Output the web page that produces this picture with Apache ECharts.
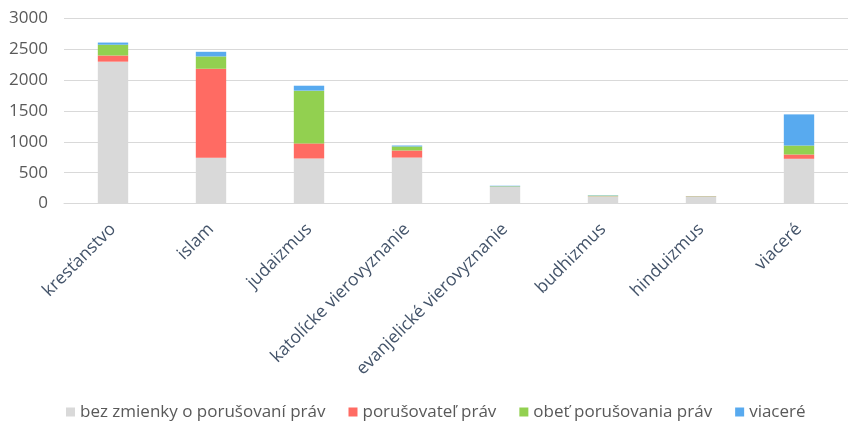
<!DOCTYPE html>
<html><head><meta charset="utf-8">
<script src="https://cdn.jsdelivr.net/npm/echarts@6/dist/echarts.min.js"></script>
<style>html,body{margin:0;padding:0;background:#fff}#c{width:848px;height:421px}</style>
</head><body><div id="c"></div>
<script>
const categories = ['kresťanstvo','islam','judaizmus','katolícke vierovyznanie','evanjelické vierovyznanie','budhizmus','hinduizmus','viaceré'];
const seriesNames = ['bez zmienky o porušovaní práv','porušovateľ práv','obeť porušovania práv','viaceré'];
const bezZmienky = [2300, 740, 730, 745, 270, 115, 105, 725];
const porusovatel = [100, 1445, 245, 115, 2, 3, 6, 70];
const obet = [175, 200, 855, 65, 8, 10, 5, 145];
const viacere = [35, 75, 80, 15, 8, 5, 2, 505];
const yTicks = [0, 500, 1000, 1500, 2000, 2500, 3000];
const colors = ['#D9D9D9','#FF6B63','#92D050','#58AAEF'];
const values = [bezZmienky, porusovatel, obet, viacere];

const chart = echarts.init(document.getElementById('c'));
chart.setOption({
  animation: false,
  grid: {left: 64, right: -4, top: 18.5, bottom: 217.5, containLabel: false},
  legend: {
    top: 401, left: 66, padding: 0,
    itemWidth: 9, itemHeight: 9, itemGap: 23, icon: 'rect',
    textStyle: {color: '#595959', fontSize: 17, fontFamily: 'Open Sans', lineHeight: 22},
    data: seriesNames
  },
  xAxis: {
    type: 'category', data: categories,
    axisLine: {lineStyle: {color: '#D9D9D9', width: 1}},
    axisTick: {show: false},
    axisLabel: {rotate: 45, color: '#44546A', fontSize: 17.5, fontFamily: 'Open Sans', margin: 23, interval: 0}
  },
  yAxis: {
    type: 'value', min: yTicks[0], max: yTicks[yTicks.length-1], interval: 500,
    axisLine: {show: false}, axisTick: {show: false},
    splitLine: {lineStyle: {color: '#D9D9D9', width: 1}},
    axisLabel: {color: '#595959', fontSize: 17, fontFamily: 'Open Sans', margin: 16, formatter: v => String(v)}
  },
  series: seriesNames.map((n, i) => ({
    name: n, type: 'bar', stack: 'total', data: values[i], barWidth: '31%',
    itemStyle: {color: colors[i]}
  }))
});
</script></body></html>
